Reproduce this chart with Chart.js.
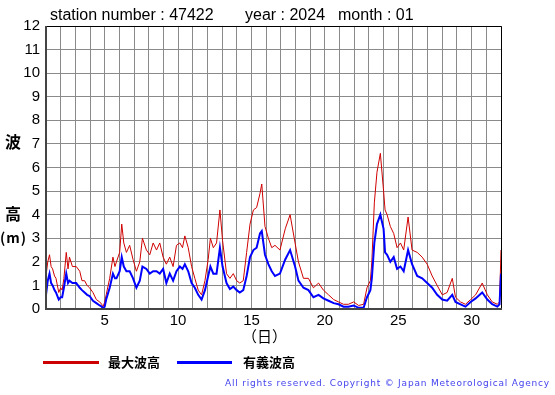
<!DOCTYPE html>
<html>
<head>
<meta charset="utf-8">
<script src="https://cdn.jsdelivr.net/npm/chart.js@4/dist/chart.umd.min.js"></script>
<style>
  html, body { margin:0; padding:0; background:#fff; }
  #wrap { position:relative; width:555px; height:395px; overflow:hidden; }
  #c { position:absolute; left:0; top:0; }
  .t { position:absolute; font-family:"Liberation Sans", Arial, sans-serif; color:#000; white-space:nowrap; line-height:1; }
  .j { position:absolute; font-family:"Noto Sans CJK JP", sans-serif; color:#000; white-space:nowrap; line-height:1; }
</style>
</head>
<body>
<div id="wrap">
  <canvas id="c" width="555" height="395"></canvas>
  <div class="t" style="left:50px;top:7px;font-size:16px;">station number : 47422</div>
  <div class="t" style="left:245px;top:7px;font-size:16px;">year : 2024</div>
  <div class="t" style="left:338px;top:7px;font-size:16px;">month : 01</div>
  <div class="j" style="left:5px;top:133px;font-size:16px;font-weight:bold;">波</div>
  <div class="j" style="left:5px;top:205px;font-size:16px;font-weight:bold;">高</div>
  <div class="j" style="left:0px;top:230px;font-size:14px;font-weight:bold;letter-spacing:1px;">(m)</div>
  <div class="j" style="left:242px;top:328px;font-size:15px;">（日）</div>
  <div style="position:absolute;left:43px;top:361px;width:56px;height:3px;background:#cc0000;"></div>
  <div class="j" style="left:108px;top:355px;font-size:13px;font-weight:bold;">最大波高</div>
  <div style="position:absolute;left:177px;top:361px;width:55px;height:3px;background:#0000ff;"></div>
  <div class="j" style="left:243px;top:355px;font-size:13px;font-weight:bold;">有義波高</div>
  <div class="t" style="right:5px;top:379px;font-size:9px;letter-spacing:0.8px;color:#4444ee;font-family:'DejaVu Sans',sans-serif;">All rights reserved. Copyright © Japan Meteorological Agency</div>
</div>
<script>
const days = [
 1.00,1.12,1.24,1.35,1.45,1.58,1.68,1.87,2.00,2.10,2.22,2.38,2.50,2.60,2.80,3.06,3.30,3.45,3.63,3.80,3.97,
 4.20,4.43,4.66,4.80,4.86,5.00,5.10,5.34,5.56,5.70,5.80,6.02,6.16,6.30,6.48,6.70,6.93,7.16,7.39,7.57,7.84,
 8.07,8.30,8.53,8.75,8.98,9.20,9.43,9.66,9.89,10.12,10.30,10.46,10.69,10.92,11.14,11.37,11.60,11.83,12.05,
 12.20,12.40,12.62,12.85,13.03,13.30,13.53,13.76,13.99,14.20,14.44,14.67,14.90,15.13,15.35,15.58,15.70,
 15.92,16.15,16.38,16.60,16.94,17.30,17.63,17.97,18.20,18.54,18.88,19.22,19.57,19.90,20.25,20.60,20.93,
 21.27,21.60,21.96,22.30,22.64,22.87,23.10,23.20,23.37,23.55,23.78,24.00,24.10,24.24,24.46,24.69,24.92,
 25.15,25.37,25.67,25.94,26.29,26.63,26.97,27.31,27.65,28.00,28.33,28.68,28.90,29.24,29.58,29.93,30.27,
 30.72,31.07,31.40,31.75,31.90,32.00
];
const maxWave = [
 1.4,2.0,2.3,1.8,1.7,1.4,1.3,0.7,0.9,0.8,1.3,2.4,1.7,2.2,1.8,1.8,1.6,1.2,1.2,1.0,0.9,
 0.7,0.4,0.3,0.2,0.05,0.3,0.6,1.3,2.2,1.8,2.0,2.4,3.6,2.8,2.4,2.7,2.1,1.6,2.0,3.0,2.5,
 2.3,2.8,2.5,2.8,2.2,1.9,2.2,1.8,2.7,2.8,2.6,3.1,2.6,1.8,1.3,0.8,0.6,1.2,2.1,
 3.0,2.6,2.8,4.2,2.9,1.5,1.3,1.5,1.2,1.1,1.2,2.4,3.6,4.2,4.3,4.9,5.3,
 3.5,3.0,2.6,2.7,2.5,3.4,4.0,2.8,2.0,1.3,1.3,0.9,1.1,0.8,0.6,0.4,0.3,
 0.2,0.2,0.3,0.15,0.2,0.9,1.2,2.0,4.5,5.8,6.6,5.0,4.2,4.0,3.5,3.2,2.6,
 2.8,2.5,3.9,2.5,2.4,2.2,1.9,1.4,1.0,0.6,0.7,1.3,0.5,0.3,0.2,0.4,0.6,
 1.1,0.6,0.3,0.2,0.3,2.5
];
const sigWave = [
 0.6,1.2,1.5,1.1,1.0,0.8,0.7,0.4,0.5,0.5,0.9,1.5,1.1,1.2,1.1,1.1,0.9,0.8,0.7,0.6,0.55,
 0.35,0.25,0.15,0.1,0.0,0.1,0.4,0.9,1.5,1.3,1.3,1.6,2.2,1.8,1.6,1.6,1.3,0.9,1.2,1.8,1.7,
 1.5,1.6,1.6,1.5,1.7,1.1,1.5,1.2,1.6,1.8,1.7,1.9,1.6,1.1,0.9,0.6,0.4,0.8,1.4,
 1.8,1.5,1.5,2.6,1.8,1.1,0.85,0.95,0.8,0.7,0.8,1.4,2.2,2.5,2.6,3.2,3.3,
 2.3,1.9,1.6,1.4,1.5,2.1,2.5,1.8,1.2,0.9,0.8,0.5,0.6,0.45,0.35,0.25,0.2,
 0.1,0.1,0.15,0.05,0.05,0.5,0.8,1.3,2.8,3.6,4.0,3.4,2.4,2.3,2.0,2.2,1.7,
 1.8,1.6,2.5,1.9,1.4,1.3,1.1,0.9,0.6,0.4,0.35,0.6,0.3,0.2,0.1,0.3,0.45,
 0.7,0.4,0.2,0.1,0.2,1.5
];
const xLabels = [5,10,15,20,25,30];
const yMin = 0, yMax = 12;

const frame = {
  id:'frame',
  afterDraw(chart){
    const a = chart.chartArea, ctx = chart.ctx;
    ctx.save();
    ctx.strokeStyle = '#000';
    ctx.lineWidth = 1;
    ctx.beginPath();
    ctx.moveTo(a.left, a.top+0.5); ctx.lineTo(a.right+0.5, a.top+0.5); ctx.lineTo(a.right+0.5, a.bottom);
    ctx.stroke();
    ctx.strokeStyle = '#444';
    ctx.lineWidth = 2;
    ctx.beginPath();
    ctx.moveTo(a.left, a.top); ctx.lineTo(a.left, a.bottom); ctx.lineTo(a.right+1, a.bottom);
    ctx.stroke();
    ctx.restore();
  }
};

new Chart(document.getElementById('c'), {
  type:'line',
  data:{
    datasets:[
      { label:'有義波高', data: days.map((d,i)=>({x:d, y:sigWave[i]})), borderColor:'#0000ff', borderWidth:2, pointRadius:0, tension:0, fill:false },
      { label:'最大波高', data: days.map((d,i)=>({x:d, y:maxWave[i]})), borderColor:'#d00000', borderWidth:1, pointRadius:0, tension:0, fill:false }
    ]
  },
  options:{
    responsive:false, animation:false, devicePixelRatio:1,
    layout:{ padding:{ left:0, top:26, right:54, bottom:66 } },
    plugins:{ legend:{display:false}, tooltip:{enabled:false}, title:{display:false} },
    scales:{
      x:{
        type:'linear', min:1, max:32,
        afterFit(s){ s.height = 20; },
        ticks:{ stepSize:1, autoSkip:false, maxRotation:0, padding:3, color:'#000',
          font:{ family:'"Liberation Sans", Arial, sans-serif', size:15 },
          callback:(v)=> xLabels.includes(v) ? String(v) : '' },
        grid:{ color:'#8a8a8a', lineWidth:1, drawTicks:false },
        border:{ display:false }
      },
      y:{
        min:yMin, max:yMax,
        afterFit(s){ s.width = 46; },
        ticks:{ stepSize:1, padding:6, color:'#000',
          font:{ family:'"Liberation Sans", Arial, sans-serif', size:15 } },
        grid:{ color:'#8a8a8a', lineWidth:1, drawTicks:false },
        border:{ display:false }
      }
    }
  },
  plugins:[frame]
});
</script>
</body>
</html>
